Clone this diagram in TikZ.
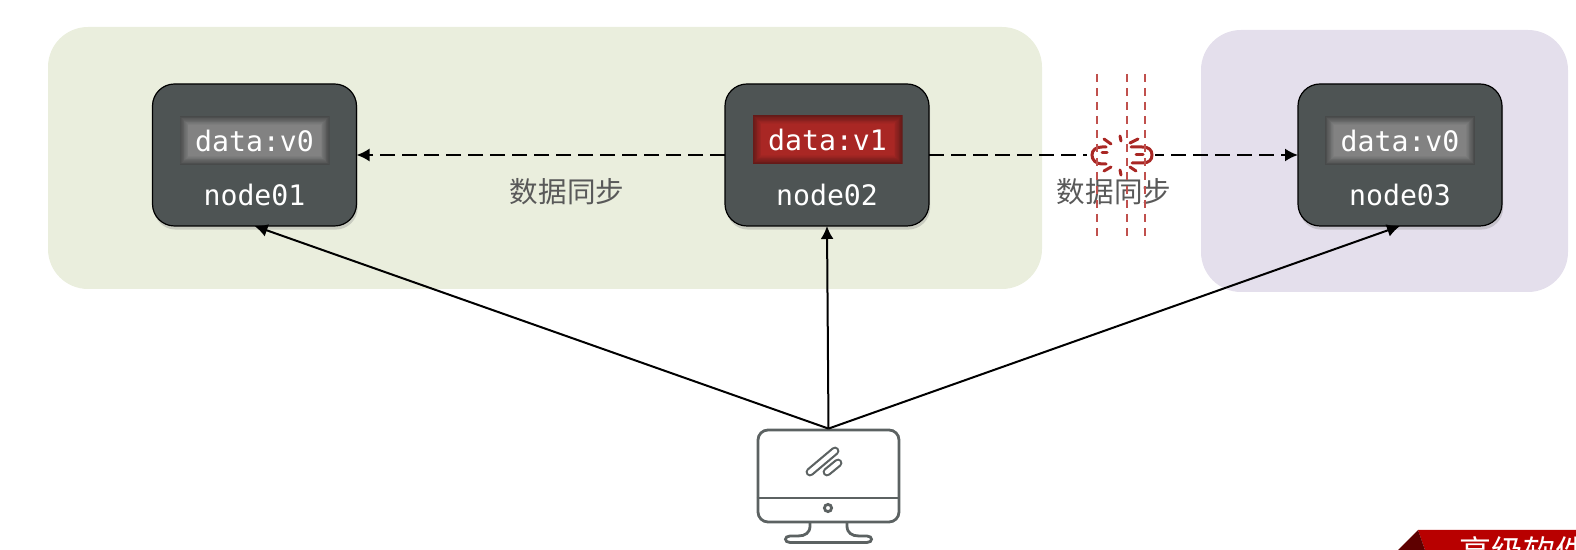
\documentclass[tikz,border=0pt]{standalone}
\usepackage{fontspec}
\newfontfamily\cjkfont{Noto Sans CJK SC}
\newfontfamily\codefont{DejaVu Sans Mono}
\usetikzlibrary{calc,shadows,arrows.meta,shapes.geometric}

\definecolor{groupgreen}{HTML}{EAEEDD}
\definecolor{grouppurple}{HTML}{E4DFEC}
\definecolor{srvgray}{HTML}{4E5454}
\definecolor{iconred}{HTML}{A92724}
\definecolor{cutred}{HTML}{C0504D}
\definecolor{pcgray}{HTML}{5C6262}
\definecolor{badgered}{HTML}{B80000}
\definecolor{badgedark}{HTML}{5E0000}
\definecolor{glowgrayedge}{HTML}{484A4A}
\definecolor{glowgray}{HTML}{828282}
\definecolor{glowrededge}{HTML}{641A18}

\begin{document}
\begin{tikzpicture}[x=0.5pt, y=-0.5pt,
	region/.style={rounded corners=20pt, minimum height=131pt},
	srvbox/.style={draw=black, line width=0.6pt, outer sep=0pt, fill=srvgray, rounded corners=11pt, minimum width=102pt, minimum height=71pt, drop shadow={opacity=0.3, shadow xshift=0.6pt, shadow yshift=-1.8pt}},
	databox/.style 2 args={minimum width=75pt, minimum height=24.5pt, inner sep=0pt, text=white, font=\codefont\fontsize{14.1}{16}\selectfont, path picture={
		\foreach \step in {0,...,11}{
			\pgfmathsetmacro{\mixval}{\step*100/11}
			\fill[#2!\mixval!#1] ($(path picture bounding box.south west)+(\step*0.4pt,\step*0.4pt)$) rectangle ($(path picture bounding box.north east)-(\step*0.4pt,\step*0.4pt)$);
		}}},
	srvname/.style={text=white, font=\codefont\fontsize{14.1}{16}\selectfont, inner sep=0pt},
	synclabel/.style={text=black!65, font=\cjkfont\fontsize{14.3}{16}\selectfont, inner sep=0pt},
	synclink/.style={line width=1pt, dash pattern=on 7.5pt off 3.5pt, -{Latex[length=6.5pt,width=6.5pt]}},
	accesslink/.style={line width=1pt, -{Latex[length=6.5pt,width=6.5pt]}},
	cutline/.style={cutred, line width=0.8pt, dash pattern=on 4pt off 3pt},
	brokenpart/.style={iconred, line width=1.5pt, line cap=round},
	pcline/.style={pcgray, line width=1.4pt},
	]
	\useasboundingbox (0,0) rectangle (1576,550);

	\node[region, fill=groupgreen, minimum width=497pt] (groupA) at (545,158) {};
	\node[region, fill=grouppurple, minimum width=183.5pt] (groupB) at (1384.5,161) {};

	\node[srvbox] (srv1) at (254.5,155) {};
	\node[srvbox] (srv2) at (827,155) {};
	\node[srvbox] (srv3) at (1400,155) {};

	\node[databox={glowgrayedge}{glowgray}] (data1) at (254.5,140.5) {data:v0};
	\node[databox={glowrededge}{iconred}] (data2) at (827.5,139.5) {data:v1};
	\node[databox={glowgrayedge}{glowgray}] (data3) at (1400,140.5) {data:v0};

	\node[srvname] (name1) at (254.5,195) {node01};
	\node[srvname] (name2) at (827,195) {node02};
	\node[srvname] (name3) at (1400,195) {node03};

	\draw[synclink] (srv2) -- (srv1);
	\draw[synclink] (srv2) -- (srv3);

	% broken link
	\node[fill=white, ellipse, minimum width=34pt, minimum height=20pt, inner sep=0pt] (brk) at (1121,155) {};
	\draw[brokenpart] (1106,147) -- (1102,147) .. controls (1096,147) and (1092,150) .. (1092,155) .. controls (1092,160) and (1096,164) .. (1102,164) -- (1106,164);
	\draw[brokenpart] (1107,153) -- (1102,153);
	\draw[brokenpart] (1131,147) -- (1142,147) .. controls (1149,147) and (1152,150) .. (1152,155) .. controls (1152,160) and (1149,163) .. (1142,163) -- (1132,163);
	\draw[brokenpart] (1136,155) -- (1143,155);
	\draw[brokenpart] (1104,139) -- (1111,144);
	\draw[brokenpart] (1120,136) -- (1121,141);
	\draw[brokenpart] (1130,143) -- (1138,139);
	\draw[brokenpart] (1104,171) -- (1111,167);
	\draw[brokenpart] (1120,170) -- (1121,175);
	\draw[brokenpart] (1130,167) -- (1136,171);

	\node[synclabel] (sync1) at (567,192) {数据同步};
	\node[synclabel] (sync2) at (1114,192) {数据同步};

	\coordinate (cutA1) at (1097,74);
	\coordinate (cutA2) at (1097,238);
	\coordinate (cutB1) at (1127,74);
	\coordinate (cutB2) at (1127,238);
	\coordinate (cutC1) at (1145,74);
	\coordinate (cutC2) at (1145,238);
	\draw[cutline] (cutA1) -- (cutA2);
	\draw[cutline] (cutB1) -- (cutB2);
	\draw[cutline] (cutC1) -- (cutC2);

	% monitor
	\node[draw=pcgray, line width=1.4pt, rounded corners=5pt, minimum width=70.5pt, minimum height=46pt, inner sep=0pt] (pc) at (828.5,476) {};
	\draw[pcline] (pc.west |- 0,498) -- (pc.east |- 0,498);
	\draw[pcline] (828,508) circle (3.6);
	\draw[pcline] (810,522) -- (810,526) .. controls (810,533) and (805,536) .. (798,536) -- (790,536) .. controls (784,536) and (784,542.5) .. (790,542.5) -- (867,542.5) .. controls (873,542.5) and (873,536) .. (867,536) -- (859,536) .. controls (852,536) and (847,533) .. (847,526) -- (847,522);
	\draw[pcgray, line width=4.4pt, line cap=round] (810,472) -- (835,451);
	\draw[white, line width=2.2pt, line cap=round] (810,472) -- (835,451);
	\draw[pcgray, line width=4.4pt, line cap=round] (827,472) -- (838,463);
	\draw[white, line width=2.2pt, line cap=round] (827,472) -- (838,463);

	\draw[accesslink] (pc.north) -- (srv1.south);
	\draw[accesslink] (pc.north) -- (srv2.south);
	\draw[accesslink] (pc.north) -- (srv3.south);

	% badge
	\fill[badgered] (1418,530) -- (1576,530) -- (1576,550) -- (1425,550) -- cycle;
	\fill[badgedark] (1418,530) -- (1398,550) -- (1425,550) -- cycle;
	\node[anchor=north west, inner sep=0pt, text=white, font=\cjkfont\fontsize{16}{18}\selectfont] (badge) at (1459,536) {高级软件};
\end{tikzpicture}
\end{document}
